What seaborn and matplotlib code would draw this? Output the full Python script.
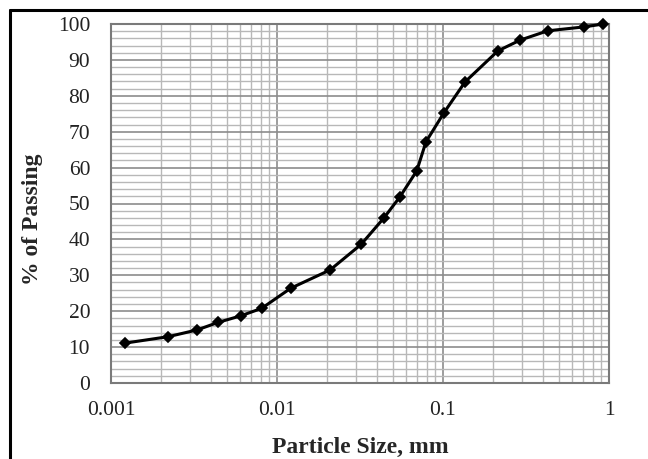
import matplotlib
matplotlib.use("Agg")
import matplotlib.pyplot as plt
import seaborn as sns
import pandas as pd
from matplotlib.ticker import LogLocator, MultipleLocator, FixedLocator, FixedFormatter, NullFormatter
from matplotlib.lines import Line2D

# ---- data ----
size_mm = [0.00121, 0.00221, 0.00331, 0.00443, 0.00604, 0.00809, 0.0121, 0.0209,
           0.0321, 0.0441, 0.0551, 0.0695, 0.079, 0.1014, 0.136, 0.214, 0.291,
           0.427, 0.71, 0.925]
passing = [11.1, 12.9, 14.8, 16.9, 18.7, 20.8, 26.4, 31.5, 38.6, 46.0, 51.9,
           59.1, 67.2, 75.3, 83.9, 92.5, 95.5, 98.1, 99.2, 100.0]
x_ticks = [0.001, 0.01, 0.1, 1]
x_tick_labels = ["0.001", "0.01", "0.1", "1"]
y_ticks = [0, 10, 20, 30, 40, 50, 60, 70, 80, 90, 100]
x_label = "Particle Size, mm"
y_label = "% of Passing"

sns.set_theme(style="white")
plt.rcParams['font.family'] = ['Liberation Serif', 'DejaVu Serif']

fig = plt.figure(figsize=(6.48, 4.59), dpi=100)
W, H = 648, 459
ax = fig.add_axes([111 / W, 1 - 383 / H, (609 - 111) / W, (383 - 24) / H])

df = pd.DataFrame({"size": size_mm, "passing": passing})
sns.lineplot(data=df, x="size", y="passing", ax=ax, sort=False, color="black",
             linewidth=2.2, marker="D", markersize=5.5, markeredgecolor="black",
             markerfacecolor="black", markeredgewidth=1.2, clip_on=False, zorder=5)

ax.set_xscale("log")
ax.set_xlim(0.001, 1)
ax.set_ylim(0, 100)
ax.xaxis.set_major_locator(FixedLocator(x_ticks))
ax.xaxis.set_major_formatter(FixedFormatter(x_tick_labels))
ax.xaxis.set_minor_locator(LogLocator(base=10, subs=range(2, 10)))
ax.xaxis.set_minor_formatter(NullFormatter())
ax.yaxis.set_major_locator(FixedLocator(y_ticks))
ax.yaxis.set_minor_locator(MultipleLocator(2))

ax.grid(which="major", color="#8c8c8c", linewidth=1.2)
ax.grid(which="minor", color="#b8b8b8", linewidth=1.0)
ax.set_axisbelow(True)

for s in ax.spines.values():
    s.set_color("#7a7a7a")
    s.set_linewidth(1.5)

ax.tick_params(which="both", length=0)
ax.tick_params(axis="x", pad=13, labelsize=15.5, labelcolor="#222222")
ax.tick_params(axis="y", pad=15, labelsize=15.5, labelcolor="#222222")

ax.set_xlabel(x_label, fontsize=17, fontweight="bold")
ax.set_ylabel(y_label, fontsize=17, fontweight="bold")
ax.xaxis.set_label_coords(0.5, -0.150)
ax.yaxis.set_label_coords(-0.137, 0.455)

# outer frame (top and left edges visible)
fig.add_artist(Line2D([10 / W, 10 / W], [0, 1 - 10 / H], color="black", linewidth=2.2))
fig.add_artist(Line2D([10 / W, 1], [1 - 10 / H, 1 - 10 / H], color="black", linewidth=2.2))

fig.savefig("out.png", dpi=100)
